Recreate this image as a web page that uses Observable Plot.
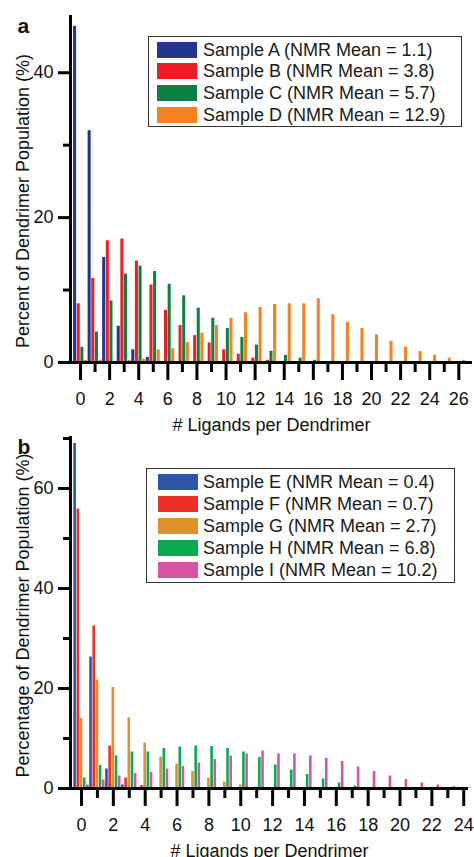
<!DOCTYPE html>
<html>
<head>
<meta charset="utf-8">
<script src="https://cdn.jsdelivr.net/npm/d3@7"></script>
<script src="https://cdn.jsdelivr.net/npm/@observablehq/plot@0.6"></script>
<style>
  body { margin: 0; background: #fff; font-family: "Liberation Sans", Arial, sans-serif; }
  #wrap { position: relative; width: 474px; height: 857px; overflow: hidden; }
  #wrap svg { display: block; }
  .legend { position: absolute; border: 1.5px solid #333; background: #fff; box-sizing: border-box; }
  .legend .sw { position: absolute; width: 40px; height: 16px; }
  .legend .lb { position: absolute; font-size: 18px; line-height: 18px; color: #1a1a1a; white-space: nowrap; }
</style>
</head>
<body>
<div id="wrap"></div>
<script>
// ---------- Panel a data ----------
const ligandsA = d3.range(0, 27);
const namesA = ["Sample A (NMR Mean = 1.1)", "Sample B (NMR Mean = 3.8)", "Sample C (NMR Mean = 5.7)", "Sample D (NMR Mean = 12.9)"];
const colorsA = ["#25358f", "#ee1d25", "#0a8142", "#f5821f"];
const sampleA = [46.4, 32.0, 14.5, 5.0, 1.75, 0.7, 0.1];
const sampleB = [8.1, 11.6, 16.8, 17.05, 14.0, 10.7, 7.2, 5.1, 3.7, 2.7, 1.75, 1.15, 0.6, 0.3, 0.1];
const sampleC = [2.1, 4.2, 8.5, 12.2, 13.3, 12.55, 10.8, 9.2, 7.5, 6.1, 4.7, 3.45, 2.4, 1.55, 0.97, 0.6, 0.3, 0.1];
const sampleD = [0.3, 0.3, 0.1, 0.3, 0.45, 1.75, 1.9, 2.75, 4.05, 5.1, 6.1, 6.85, 7.6, 8.0, 8.1, 8.1, 8.8, 6.6, 5.55, 4.7, 3.8, 2.9, 2.1, 1.5, 1.0, 0.6, 0.3];
const xTicksMajorA = d3.range(0, 27, 2);
const xTicksMinorA = d3.range(1, 27, 2);
const yTicksMajorA = [0, 20, 40];
const yTicksMinorA = [10, 30];

// ---------- Panel b data ----------
const ligandsB = d3.range(0, 25);
const namesB = ["Sample E (NMR Mean = 0.4)", "Sample F (NMR Mean = 0.7)", "Sample G (NMR Mean = 2.7)", "Sample H (NMR Mean = 6.8)", "Sample I (NMR Mean = 10.2)"];
const colorsB = ["#2b56a6", "#ed2f25", "#dc9229", "#0aab50", "#d655a2"];
const sampleE = [69.0, 26.3, 3.9, 0.7];
const sampleF = [55.9, 32.5, 8.5, 2.1, 0.6, 0.1];
const sampleG = [14.0, 21.7, 20.2, 14.1, 9.1, 6.3, 4.9, 3.4, 2.1, 1.3, 0.7, 0.3, 0.2];
const sampleH = [2.1, 4.6, 6.5, 7.3, 7.3, 8.0, 8.3, 8.5, 8.4, 8.0, 7.3, 6.2, 4.7, 3.7, 2.8, 1.9, 1.1, 0.5];
const sampleI = [0.7, 1.7, 2.5, 3.0, 3.2, 3.9, 4.4, 5.1, 5.8, 6.5, 6.9, 7.5, 6.9, 6.9, 6.5, 6.0, 5.4, 4.3, 3.4, 2.5, 1.8, 1.1, 0.7, 0.4, 0.15];
const xTicksMajorB = d3.range(0, 25, 2);
const xTicksMinorB = d3.range(1, 25, 2);
const yTicksMajorB = [0, 20, 40, 60];
const yTicksMinorB = [10, 30, 50, 70];

const xLabel = "# Ligands per Dendrimer";
const yLabelA = "Percent of Dendrimer Population (%)";
const yLabelB = "Percentage of Dendrimer Population (%)";

function tidy(ligands, seriesList, names) {
  const rows = [];
  seriesList.forEach((vals, i) => {
    ligands.forEach((x) => {
      const v = vals[x] ?? 0;
      if (v > 0) rows.push({x, v, s: names[i], i});
    });
  });
  return rows;
}

const FONT = '"Liberation Sans", Arial, sans-serif';

function panel({rows, n, names, colors, xDomain, yDomain, xMaj, xMin, yMaj, yMin, yLabel, tag, height, marginTop, marginBottom, marginRight, yTitleDy}) {
  const w = 1 / n;
  return Plot.plot({
    width: 474,
    height,
    marginLeft: 70,
    marginRight,
    marginTop,
    marginBottom,
    style: {fontFamily: FONT, fontSize: "18px", color: "#111", background: "white", overflow: "visible"},
    x: {domain: xDomain},
    y: {domain: yDomain},
    color: {domain: names, range: colors},
    marks: [
      Plot.rectY(rows, {
        x1: (d) => d.x - 0.5 + d.i * w,
        x2: (d) => d.x - 0.5 + (d.i + 1) * w,
        y: "v",
        fill: "s",
        insetLeft: 0.3,
        insetRight: 0.3
      }),
      Plot.ruleY([yDomain[0]], {stroke: "#000", strokeWidth: 3}),
      Plot.ruleX([xDomain[0]], {stroke: "#000", strokeWidth: 3}),
      Plot.axisX({ticks: xMaj, tickSize: 18, tickPadding: 12, fontSize: 18, strokeWidth: 3, stroke: "#000", label: null, tickFormat: (d) => String(d)}),
      Plot.axisX({ticks: xMin, tickSize: 10, strokeWidth: 3, stroke: "#000", label: null, tickFormat: () => ""}),
      Plot.axisY({ticks: yMaj, tickSize: 12, tickPadding: 5, fontSize: 18, strokeWidth: 3, stroke: "#000", label: null, tickFormat: (d) => String(d)}),
      Plot.axisY({ticks: yMin, tickSize: 7, strokeWidth: 3, stroke: "#000", label: null, tickFormat: () => ""}),
      Plot.text([xLabel], {text: (d) => d, frameAnchor: "bottom", lineAnchor: "bottom", dy: 68, fontSize: 18, fill: "#111"}),
      Plot.text([yLabel], {text: (d) => d, frameAnchor: "left", rotate: -90, lineAnchor: "bottom", textAnchor: "middle", dx: -42, dy: yTitleDy, fontSize: 18, fill: "#111"}),
      Plot.text([tag], {text: (d) => d, frameAnchor: "top-left", textAnchor: "start", lineAnchor: "bottom", dx: -53, dy: 17, fontSize: 21, fontWeight: "bold", fill: "#111"})
    ]
  });
}

const wrap = document.getElementById("wrap");

const plotA = panel({
  rows: tidy(ligandsA, [sampleA, sampleB, sampleC, sampleD], namesA),
  n: 4, names: namesA, colors: colorsA,
  xDomain: [-0.69, 26.94], yDomain: [0, 47.9],
  xMaj: xTicksMajorA, xMin: xTicksMinorA, yMaj: yTicksMajorA, yMin: yTicksMinorA,
  yLabel: yLabelA, tag: "a",
  height: 433, marginTop: 15, marginBottom: 71, marginRight: 2, yTitleDy: 12
});
const plotB = panel({
  rows: tidy(ligandsB, [sampleE, sampleF, sampleG, sampleH, sampleI], namesB),
  n: 5, names: namesB, colors: colorsB,
  xDomain: [-0.69, 24.3], yDomain: [0, 70.4],
  xMaj: xTicksMajorB, xMin: xTicksMinorB, yMaj: yTicksMajorB, yMin: yTicksMinorB,
  yLabel: yLabelB, tag: "b",
  height: 424, marginTop: 3, marginBottom: 69, marginRight: 6, yTitleDy: 3
});
wrap.appendChild(plotA);
wrap.appendChild(plotB);

function legend(names, colors, box, pitch, firstCenter, swLeft, textLeft) {
  const el = document.createElement("div");
  el.className = "legend";
  Object.assign(el.style, {left: box.left + "px", top: box.top + "px", width: box.width + "px", height: box.height + "px"});
  names.forEach((name, k) => {
    const cy = firstCenter + k * pitch;
    const sw = document.createElement("div");
    sw.className = "sw";
    Object.assign(sw.style, {left: swLeft + "px", top: (cy - 8) + "px", background: colors[k]});
    const lb = document.createElement("div");
    lb.className = "lb";
    Object.assign(lb.style, {left: textLeft + "px", top: (cy - 9) + "px"});
    lb.textContent = name;
    el.appendChild(sw);
    el.appendChild(lb);
  });
  wrap.appendChild(el);
}
legend(namesA, colorsA, {left: 148, top: 36, width: 314, height: 91}, 21.8, 12.5, 8, 54);
legend(namesB, colorsB, {left: 146, top: 468, width: 309, height: 115}, 22, 13, 11, 56);
</script>
</body>
</html>
